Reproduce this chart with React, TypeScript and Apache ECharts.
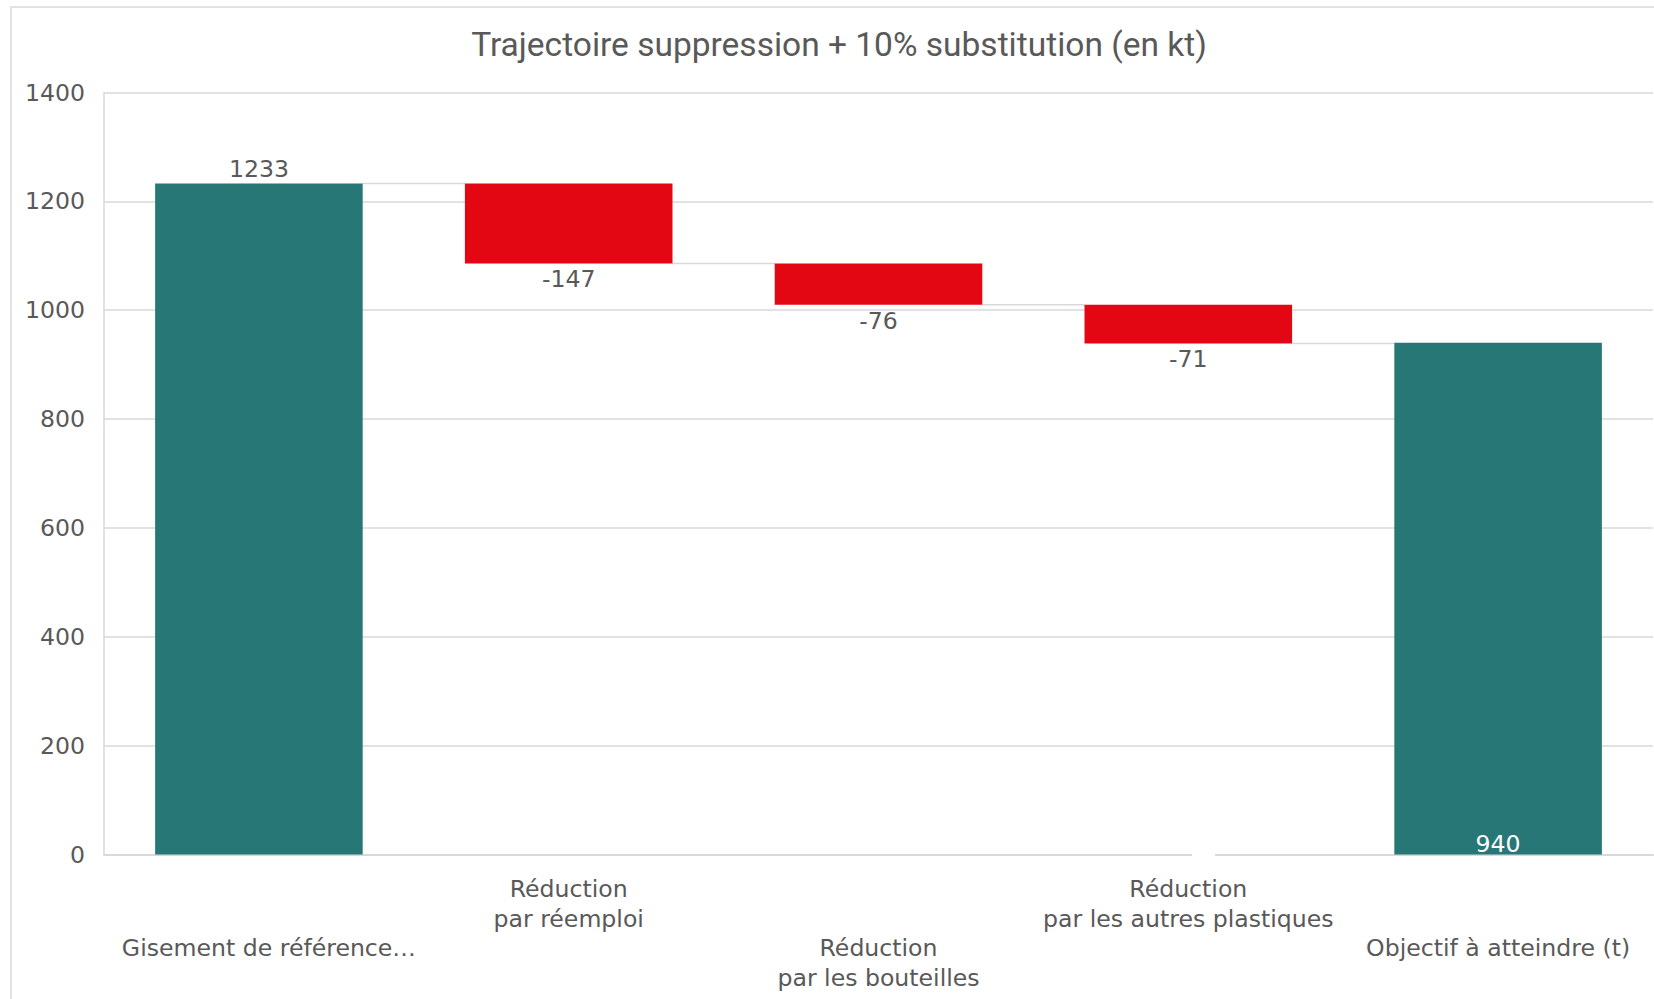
import { useEffect, useRef } from "react";
import * as echarts from "echarts";

// Waterfall: reference stock, three reductions, resulting target (kt)
const categories = [
  "Gisement de référence…",
  "Réduction\npar réemploi",
  "Réduction\npar les bouteilles",
  "Réduction\npar les autres plastiques",
  "Objectif à atteindre (t)",
];
const values = [1233, -147, -76, -71, 940];
const isTotal = [true, false, false, false, true];

const yMin = 0;
const yMax = 1400;
const yStep = 200;

const titleText = "Trajectoire suppression + 10% substitution (en kt)";

const TEAL = "#287777";
const RED = "#E30613";
const TEXT = "#595959";
const LINE = "#d9d9d9";
const BAR_RATIO = 0.668;

export default function App() {
  const ref = useRef<HTMLDivElement>(null);

  useEffect(() => {
    if (!ref.current) return;
    const chart = echarts.init(ref.current, null, { renderer: "svg" });

    // floating bars: invisible base + visible segment
    const bases: number[] = [];
    const heights: number[] = [];
    const levels: number[] = [];
    let running = 0;
    values.forEach((v, i) => {
      if (isTotal[i]) {
        bases.push(0);
        heights.push(v);
        running = v;
      } else {
        running += v;
        bases.push(running);
        heights.push(-v);
      }
      levels.push(running);
    });

    const connectors = levels.slice(0, -1).map((lv, i) => [i, lv]);

    const option: any = {
      animation: false,
      title: {
        text: titleText,
        left: 834,
        textAlign: "center",
        top: 22,
        textStyle: {
          fontFamily: "Roboto",
          fontSize: 33.5,
          fontWeight: "normal",
          color: TEXT,
        },
      },
      graphic: [
        {
          type: "rect",
          z: -10,
          shape: { x: 11, y: 7, width: 1700, height: 1100 },
          style: { fill: "none", stroke: LINE, lineWidth: 1.5 },
        },
        {
          // small break in the baseline under the fourth category
          type: "rect",
          z: 100,
          shape: { x: 1192, y: 851, width: 23, height: 7 },
          style: { fill: "#ffffff" },
        },
      ],
      grid: { left: 104, right: 1, top: 92.5, bottom: 144.5 },
      xAxis: {
        type: "category",
        data: categories.map((c, i) =>
          i === 0 ? { value: c, textStyle: { padding: [0, 0, 0, 20] } } : c
        ),
        axisTick: { show: false },
        axisLine: { lineStyle: { color: LINE, width: 2 } },
        axisLabel: {
          interval: 0,
          margin: 20,
          color: TEXT,
          fontFamily: "DejaVu Sans",
          fontSize: 23.6,
          lineHeight: 29.5,
          formatter: (v: string, i: number) => (i % 2 === 0 ? "\n\n" + v : v),
        },
      },
      yAxis: {
        type: "value",
        min: yMin,
        max: yMax,
        interval: yStep,
        axisLine: { show: true, lineStyle: { color: LINE, width: 1.5 } },
        splitLine: { lineStyle: { color: LINE, width: 1.5 } },
        axisLabel: {
          margin: 19,
          color: TEXT,
          fontFamily: "DejaVu Sans",
          fontSize: 23.6,
          formatter: (v: number) => String(v),
        },
      },
      series: [
        {
          type: "bar",
          stack: "wf",
          barCategoryGap: `${Math.round((1 - BAR_RATIO) * 100)}%`,
          itemStyle: { color: "transparent" },
          emphasis: { disabled: true },
          data: bases,
          silent: true,
        },
        {
          type: "bar",
          stack: "wf",
          barCategoryGap: `${Math.round((1 - BAR_RATIO) * 100)}%`,
          emphasis: { disabled: true },
          data: heights.map((h, i) => ({
            value: h,
            itemStyle: { color: isTotal[i] ? TEAL : RED },
            label: isTotal[i]
              ? i === 0
                ? { position: "top", distance: 2, color: TEXT }
                : { position: "insideBottom", distance: -1, color: "#ffffff" }
              : { position: "bottom", distance: 4, color: TEXT },
          })),
          label: {
            show: true,
            fontFamily: "DejaVu Sans",
            fontSize: 23.6,
            formatter: (p: any) => String(values[p.dataIndex]),
          },
        },
        {
          type: "custom",
          silent: true,
          z: 1,
          data: connectors,
          renderItem: (params: any, api: any) => {
            const i = api.value(0);
            const lv = api.value(1);
            const p = api.coord([i, lv]);
            const band = api.size([1, 0])[0];
            const half = (band * BAR_RATIO) / 2;
            return {
              type: "line",
              shape: { x1: p[0] + half, y1: p[1], x2: p[0] + band - half, y2: p[1] },
              style: { stroke: LINE, lineWidth: 1.5 },
            };
          },
        },
      ],
    };

    chart.setOption(option);
    return () => chart.dispose();
  }, []);

  return (
    <div
      ref={ref}
      style={{ position: "fixed", left: 0, top: 0, width: 1654, height: 999, background: "#ffffff" }}
    />
  );
}
